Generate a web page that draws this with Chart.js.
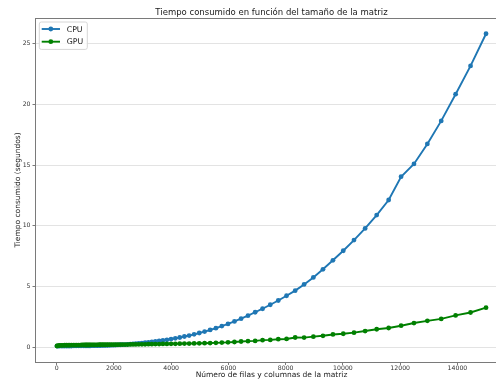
<!DOCTYPE html>
<html>
<head>
<meta charset="utf-8">
<script src="https://cdn.jsdelivr.net/npm/chart.js@4.4.1/dist/chart.umd.min.js"></script>
<style>
  html, body { margin: 0; padding: 0; background: #fff; overflow: hidden; width: 496px; height: 380px; }
  canvas { display: block; }
</style>
</head>
<body>
<canvas id="c" width="543" height="380"></canvas>
<script>
// Matrix sizes (rows = columns) that were timed
const sizes = [
  10, 50, 100, 160, 220, 280, 340, 400, 460, 520,
  580, 640, 700, 760, 820, 880, 940, 989, 1026, 1064,
  1104, 1146, 1188, 1233, 1279, 1327, 1377, 1428, 1482, 1537,
  1595, 1654, 1716, 1780, 1847, 1916, 1988, 2062, 2139, 2219,
  2303, 2389, 2478, 2571, 2667, 2767, 2871, 2978, 3089, 3205,
  3325, 3449, 3579, 3712, 3851, 3996, 4145, 4300, 4461, 4628,
  4801, 4981, 5168, 5361, 5562, 5770, 5986, 6210, 6442, 6683,
  6934, 7193, 7462, 7742, 8031, 8332, 8644, 8967, 9303, 9651,
  10012, 10387, 10776, 11180, 11598, 12032, 12482, 12950, 13434, 13937,
  14459, 15000
];

// Seconds taken on the CPU
const cpuTimes = [
  0.09, 0.09, 0.10, 0.10, 0.10, 0.10, 0.10, 0.10, 0.10, 0.10,
  0.11, 0.11, 0.11, 0.11, 0.11, 0.11, 0.12, 0.12, 0.12, 0.12,
  0.12, 0.12, 0.12, 0.13, 0.13, 0.13, 0.13, 0.14, 0.14, 0.14,
  0.15, 0.15, 0.15, 0.16, 0.16, 0.17, 0.17, 0.18, 0.19, 0.20,
  0.21, 0.22, 0.24, 0.26, 0.28, 0.30, 0.32, 0.34, 0.37, 0.40,
  0.43, 0.47, 0.51, 0.56, 0.61, 0.67, 0.73, 0.80, 0.88, 0.96,
  1.06, 1.17, 1.29, 1.42, 1.57, 1.74, 1.92, 2.12, 2.35, 2.60,
  2.88, 3.17, 3.50, 3.85, 4.24, 4.66, 5.17, 5.75, 6.42, 7.16,
  7.95, 8.83, 9.79, 10.89, 12.13, 14.05, 15.10, 16.75, 18.65, 20.85,
  23.18, 25.83
];

// Seconds taken on the GPU
const gpuTimes = [
  0.10, 0.12, 0.14, 0.15, 0.15, 0.16, 0.16, 0.16, 0.16, 0.17,
  0.17, 0.17, 0.17, 0.17, 0.17, 0.18, 0.18, 0.18, 0.18, 0.18,
  0.18, 0.18, 0.19, 0.19, 0.19, 0.19, 0.19, 0.19, 0.20, 0.20,
  0.20, 0.20, 0.20, 0.20, 0.21, 0.21, 0.21, 0.21, 0.21, 0.22,
  0.22, 0.22, 0.22, 0.23, 0.23, 0.23, 0.24, 0.24, 0.24, 0.25,
  0.25, 0.26, 0.26, 0.27, 0.27, 0.28, 0.28, 0.29, 0.30, 0.30,
  0.31, 0.32, 0.33, 0.34, 0.36, 0.38, 0.40, 0.43, 0.47, 0.50,
  0.52, 0.58, 0.60, 0.66, 0.68, 0.80, 0.79, 0.87, 0.94, 1.05,
  1.11, 1.20, 1.33, 1.48, 1.58, 1.77, 1.99, 2.17, 2.33, 2.62,
  2.86, 3.26
];

const xTicks = [0, 2000, 4000, 6000, 8000, 10000, 12000, 14000];
const yTicks = [0, 5, 10, 15, 20, 25];

const seriesNames = ['CPU', 'GPU'];
const seriesColors = ['#1f77b4', '#008000'];

const chartTitle = 'Tiempo consumido en función del tamaño de la matriz';
const xTitle = 'Número de filas y columnas de la matriz';
const yTitle = 'Tiempo consumido (segundos)';

const FONT = "'DejaVu Sans', 'Liberation Sans', sans-serif";
const SPINE = '#7a7a7a';
const TEXT = '#1a1a1a';

function points(ys) {
  return sizes.map((x, i) => ({ x: x, y: ys[i] }));
}

function series(i, ys, order) {
  return {
    label: seriesNames[i],
    data: points(ys),
    borderColor: seriesColors[i],
    backgroundColor: seriesColors[i],
    pointBackgroundColor: seriesColors[i],
    pointBorderWidth: 0,
    pointRadius: 2.4,
    pointHoverRadius: 2.4,
    borderWidth: 1.9,
    tension: 0,
    fill: false,
    order: order
  };
}

// Title centred over the plot, top frame line and a boxed legend in the upper-left corner
const frameAndLegend = {
  id: 'frameAndLegend',
  afterDraw(chart) {
    const { ctx, chartArea: a } = chart;
    ctx.save();

    ctx.fillStyle = TEXT;
    ctx.font = '8.5px ' + FONT;
    ctx.textAlign = 'center';
    ctx.textBaseline = 'middle';
    ctx.fillText(chartTitle, (a.left + a.right) / 2, 12.9);

    ctx.strokeStyle = SPINE;
    ctx.lineWidth = 1;
    const ty = Math.round(a.top) + 0.5;
    ctx.beginPath();
    ctx.moveTo(a.left, ty);
    ctx.lineTo(a.right, ty);
    ctx.stroke();

    const bx = a.left + 3.8, by = a.top + 4, bw = 48, bh = 27.4;
    ctx.fillStyle = 'rgba(255,255,255,0.85)';
    ctx.strokeStyle = '#d6d6d6';
    ctx.beginPath();
    ctx.roundRect(bx, by, bw, bh, 2);
    ctx.fill();
    ctx.stroke();

    chart.data.datasets.forEach((ds, i) => {
      const y = by + 7 + i * 12.7;
      ctx.strokeStyle = ds.borderColor;
      ctx.lineWidth = ds.borderWidth;
      ctx.beginPath();
      ctx.moveTo(bx + 2.4, y);
      ctx.lineTo(bx + 20.7, y);
      ctx.stroke();
      ctx.fillStyle = ds.borderColor;
      ctx.beginPath();
      ctx.arc(bx + 11.5, y, ds.pointRadius, 0, Math.PI * 2);
      ctx.fill();
      ctx.fillStyle = TEXT;
      ctx.font = '7.8px ' + FONT;
      ctx.textAlign = 'left';
      ctx.textBaseline = 'middle';
      ctx.fillText(ds.label, bx + 27.4, y + 0.5);
    });
    ctx.restore();
  }
};

new Chart(document.getElementById('c'), {
  type: 'line',
  data: {
    datasets: [
      series(0, cpuTimes, 1),
      series(1, gpuTimes, 0)
    ]
  },
  options: {
    responsive: false,
    devicePixelRatio: 1,
    animation: false,
    events: [],
    layout: { padding: { left: 0, right: 35.5, top: 18, bottom: 0 } },
    plugins: {
      legend: { display: false },
      tooltip: { enabled: false },
      title: { display: false }
    },
    scales: {
      x: {
        type: 'linear',
        min: -740,
        max: 15750,
        afterBuildTicks(scale) { scale.ticks = xTicks.map(v => ({ value: v })); },
        afterFit(scale) { scale.height = 18; },
        grid: { drawOnChartArea: false, drawTicks: true, tickLength: 3, tickColor: SPINE },
        border: { display: true, color: SPINE, width: 1 },
        ticks: {
          autoSkip: false, maxRotation: 0, padding: 0, color: '#333',
          font: { family: FONT, size: 6.2, lineHeight: 1 },
          callback: v => String(v)
        },
        title: {
          display: true, text: xTitle, color: TEXT,
          font: { family: FONT, size: 7.5, weight: 'normal' },
          padding: { top: 0, bottom: 0 }
        }
      },
      y: {
        type: 'linear',
        min: -1.22,
        max: 27.13,
        afterBuildTicks(scale) { scale.ticks = yTicks.map(v => ({ value: v })); },
        afterFit(scale) { scale.width = 35.5; },
        grid: { color: '#e3e3e3', lineWidth: 1, drawTicks: true, tickLength: 3, tickColor: SPINE },
        border: { display: true, color: SPINE, width: 1 },
        ticks: {
          padding: 2, color: '#333',
          font: { family: FONT, size: 6.2 },
          callback: v => String(v)
        },
        title: {
          display: true, text: yTitle, color: TEXT,
          font: { family: FONT, size: 7.5, weight: 'normal' },
          padding: { top: 14, bottom: 0 }
        }
      }
    }
  },
  plugins: [frameAndLegend]
});
</script>
</body>
</html>
